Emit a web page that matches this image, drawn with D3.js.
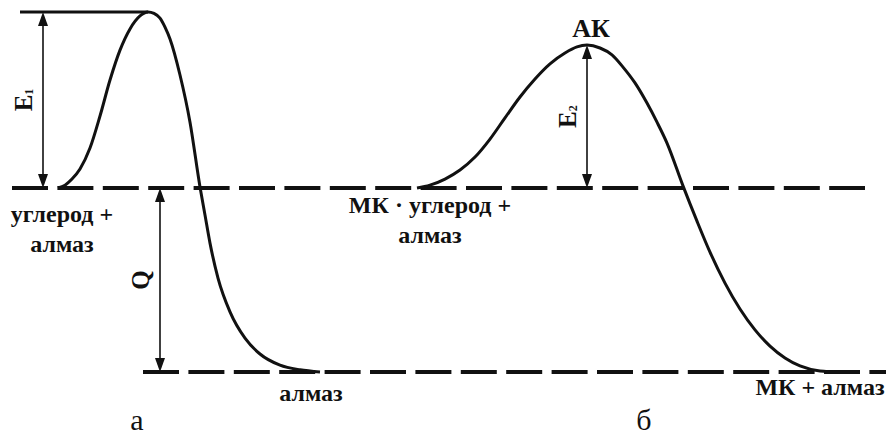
<!DOCTYPE html>
<html>
<head>
<meta charset="utf-8">
<script src="https://cdn.jsdelivr.net/npm/d3@7"></script>
<style>
  body { margin: 0; background: #fff; }
</style>
</head>
<body>
<svg id="chart"></svg>
<script>
// reaction coordinate (a.u., 0..886) vs energy (a.u., 0..100)
const curveA = [
  [58, 51.1], [65, 51.9], [72, 53.6], [80, 56.4], [90, 62.2], [100, 71.1], [110, 81.1],
  [120, 89.4], [130, 95.3], [140, 98.9], [148, 100], [154, 99.6], [160, 98.3], [165, 95.8],
  [170, 92.5], [180, 82.5], [190, 69.4], [200, 51.4], [205, 43.6], [210, 35.8], [218, 26.1],
  [230, 16.7], [245, 9.4], [260, 5.0], [280, 1.9], [300, 0.6], [320, 0]
];
const curveB = [
  [417, 51.1], [430, 51.9], [445, 53.6], [460, 56.1], [475, 59.7], [490, 64.7], [505, 70.6],
  [520, 76.4], [535, 81.4], [550, 85.6], [565, 88.6], [577, 90.3], [587, 90.8], [600, 90.0],
  [612, 88.1], [623, 84.7], [635, 80.3], [647, 74.7], [657, 69.4], [667, 63.6], [683, 51.7],
  [697, 41.9], [710, 33.3], [725, 24.7], [740, 17.5], [755, 11.7], [770, 7.2], [785, 3.9],
  [800, 1.7], [820, 0.3], [840, 0]
];

const solidLevels = [{ E: 100, from: 20, to: 148 }];
const dashedLevels = [
  { E: 51.1, from: 12, to: 865 },
  { E: 0, from: 143, to: 886 }
];

const arrows = [
  { x: 43, E0: 51.1, E1: 100, label: "E", sub: "1" },
  { x: 160, E0: 0, E1: 51.1, label: "Q", sub: "" },
  { x: 587, E0: 51.1, E1: 90.8, label: "E", sub: "2" }
];

const stateLabels = [
  { lines: ["углерод +", "алмаз"], x: 62, E: 51.1, dy: 34 },
  { lines: ["МК · углерод +", "алмаз"], x: 430, E: 51.1, dy: 25 },
  { lines: ["алмаз"], x: 311, E: 0, dy: 29 },
  { lines: ["МК + алмаз"], x: 820, E: 0, dy: 23 },
  { lines: ["АК"], x: 591, E: 90.8, dy: -8, size: 26 }
];

const panelLabels = [
  { text: "а", x: 137 },
  { text: "б", x: 644 }
];

const W = 886, H = 435;
const FONT = '"Liberation Serif", "Times New Roman", Tinos, "DejaVu Serif", "Noto Serif", serif';

const svg = d3.select("#chart").attr("width", W).attr("height", H);

const xScale = d3.scaleLinear().domain([0, 886]).range([0, W]);
const yScale = d3.scaleLinear().domain([0, 100]).range([372, 12]);

// energy levels
svg.selectAll(".solid").data(solidLevels).join("line")
  .attr("class", "solid")
  .attr("x1", d => xScale(d.from)).attr("x2", d => xScale(d.to))
  .attr("y1", d => yScale(d.E)).attr("y2", d => yScale(d.E))
  .attr("stroke", "#111").attr("stroke-width", 3);

svg.selectAll(".dashed").data(dashedLevels).join("line")
  .attr("class", "dashed")
  .attr("x1", d => xScale(d.from)).attr("x2", d => xScale(d.to))
  .attr("y1", d => yScale(d.E)).attr("y2", d => yScale(d.E))
  .attr("stroke", "#111").attr("stroke-width", 4)
  .attr("stroke-dasharray", "36,9.4");

// energy profiles
const line = d3.line()
  .x(d => xScale(d[0]))
  .y(d => yScale(d[1]))
  .curve(d3.curveMonotoneX);

svg.selectAll(".profile").data([curveA, curveB]).join("path")
  .attr("class", "profile")
  .attr("d", line)
  .attr("fill", "none")
  .attr("stroke", "#111")
  .attr("stroke-width", 3);

// double arrows
const headL = 14, headW = 5;
arrows.forEach(a => {
  const x = xScale(a.x), yb = yScale(a.E0), yt = yScale(a.E1);
  svg.append("line")
    .attr("x1", x).attr("x2", x).attr("y1", yt + headL - 2).attr("y2", yb - headL + 2)
    .attr("stroke", "#111").attr("stroke-width", 1.6);
  svg.append("path")
    .attr("d", `M${x},${yt} L${x - headW},${yt + headL} L${x + headW},${yt + headL} Z`)
    .attr("fill", "#111");
  svg.append("path")
    .attr("d", `M${x},${yb} L${x - headW},${yb - headL} L${x + headW},${yb - headL} Z`)
    .attr("fill", "#111");

  const ym = (yt + yb) / 2;
  const t = svg.append("text")
    .attr("transform", `translate(${x - 11},${ym}) rotate(-90)`)
    .attr("text-anchor", "middle")
    .attr("font-family", FONT)
    .attr("font-size", 25).attr("font-weight", "bold").attr("fill", "#111");
  t.append("tspan").text(a.label);
  if (a.sub) t.append("tspan").attr("font-size", 12).attr("dy", 1).text(a.sub);
});

// state labels
stateLabels.forEach(s => {
  const t = svg.append("text")
    .attr("x", xScale(s.x))
    .attr("y", yScale(s.E) + s.dy)
    .attr("text-anchor", "middle")
    .attr("font-family", FONT)
    .attr("font-size", s.size || 24)
    .attr("font-weight", "bold")
    .attr("fill", "#111");
  s.lines.forEach((l, i) => {
    t.append("tspan").attr("x", xScale(s.x)).attr("dy", i ? 30 : 0).text(l);
  });
});

svg.selectAll(".panel").data(panelLabels).join("text")
  .attr("class", "panel")
  .attr("x", d => xScale(d.x))
  .attr("y", 430)
  .attr("text-anchor", "middle")
  .attr("font-family", FONT)
  .attr("font-size", 30)
  .attr("fill", "#111")
  .text(d => d.text);
</script>
</body>
</html>
